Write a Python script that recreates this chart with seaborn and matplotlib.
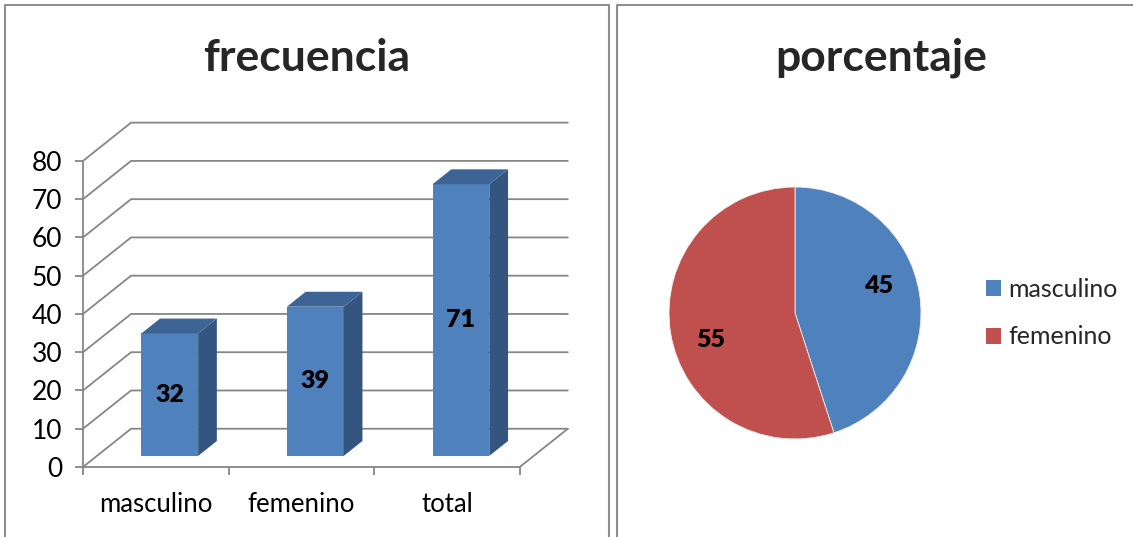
import matplotlib
matplotlib.use("Agg")
import matplotlib.pyplot as plt
import matplotlib.transforms as mtransforms
from matplotlib.patches import Polygon, Patch
from matplotlib.lines import Line2D
import numpy as np
import seaborn as sns

# data
categories = ["masculino", "femenino", "total"]
counts = [32, 39, 71]
pie_labels = ["masculino", "femenino"]
pie_values = [45, 55]
y_ticks = [0, 10, 20, 30, 40, 50, 60, 70, 80]

BLUE = "#4F81BD"
BLUE_SIDE = "#34557F"
BLUE_TOP = "#3C6495"
RED = "#C0504D"
GRID = "#868686"
BORDER = "#8E8E8E"

W, H = 1133, 537

# fake 3d: depth offset of the back wall, in data units
DX, DY = 0.33, 10
BAR_W = 0.39
D0, D1 = 0.29, 0.68


def px_box(x0, y0, x1, y1):
    # image pixel box (top-left origin) -> figure fractions
    return [x0 / W, 1 - y1 / H, (x1 - x0) / W, (y1 - y0) / H]


sns.set_style("white")
plt.rcParams["font.family"] = ["Lato", "DejaVu Sans"]

fig = plt.figure(figsize=(W / 100, H / 100), dpi=100)

# ---- left panel: 3d-looking bar chart ----
ax = fig.add_axes(px_box(83, 115, 578, 467))
sns.barplot(x=categories, y=counts, color=BLUE, saturation=1, width=BAR_W,
            linewidth=0, ax=ax, zorder=3)
shift = mtransforms.Affine2D().translate(D0 * DX, D0 * DY) + ax.transData
for p in ax.patches:
    p.set_transform(shift)

n = len(categories)
for v in y_ticks:
    ax.plot([-0.5, -0.5 + DX, n - 0.5 + DX], [v, v + DY, v + DY],
            color=GRID, lw=1.3, zorder=1, clip_on=False)
ax.plot([n - 0.5, n - 0.5 + DX], [0, DY], color=GRID, lw=1.3, zorder=1, clip_on=False)

for i, v in enumerate(counts):
    xl, xr = i - BAR_W / 2, i + BAR_W / 2
    side = [(xr + D0 * DX, D0 * DY), (xr + D1 * DX, D1 * DY),
            (xr + D1 * DX, v + D1 * DY), (xr + D0 * DX, v + D0 * DY)]
    top = [(xl + D0 * DX, v + D0 * DY), (xr + D0 * DX, v + D0 * DY),
           (xr + D1 * DX, v + D1 * DY), (xl + D1 * DX, v + D1 * DY)]
    ax.add_patch(Polygon(side, closed=True, facecolor=BLUE_SIDE, lw=0, zorder=3))
    ax.add_patch(Polygon(top, closed=True, facecolor=BLUE_TOP, lw=0, zorder=3))
    ax.text(i + D0 * DX, v / 2 + D0 * DY, str(v), ha="center", va="center",
            fontsize=18, fontweight="heavy", color="black", zorder=4)

ax.set_xlim(-0.5, 2.9)
ax.set_ylim(0, 92)
ax.set_xlabel("")
ax.set_ylabel("")
ax.set_yticks(y_ticks)
ax.set_xticks([-0.5, 0.5, 1.5, 2.5], labels=[])
ax.set_xticks([0, 1, 2], labels=categories, minor=True)
ax.tick_params(axis="y", left=True, length=5.8, width=1.3, color=GRID, pad=9,
               labelsize=19, labelcolor="black")
ax.tick_params(axis="x", which="major", bottom=True, length=5.8, width=1.3, color=GRID)
ax.tick_params(axis="x", which="minor", bottom=True, length=0, pad=18,
               labelsize=18.5, labelcolor="black")
for s in ["top", "right"]:
    ax.spines[s].set_visible(False)
ax.spines["left"].set_bounds(0, 80)
ax.spines["bottom"].set_bounds(-0.5, 2.5)
for s in ["left", "bottom"]:
    ax.spines[s].set_color(GRID)
    ax.spines[s].set_linewidth(1.3)
ax.patch.set_alpha(0)

# ---- right panel: pie ----
ax2 = fig.add_axes(px_box(667, 185, 923, 441))
wedges, _, autotexts = ax2.pie(
    pie_values, colors=[BLUE, RED], startangle=90, counterclock=False,
    autopct=lambda p: f"{p:.0f}", pctdistance=0.7,
    textprops=dict(fontsize=18, fontweight="heavy", color="black"),
    wedgeprops=dict(linewidth=0.6, edgecolor="#f0f0f0"))
for w, t in zip(wedges, autotexts):
    ang = np.deg2rad((w.theta1 + w.theta2) / 2 + 9)
    t.set_position((0.7 * np.cos(ang), 0.7 * np.sin(ang)))
ax2.set_xlim(-1.016, 1.016)
ax2.set_ylim(-1.016, 1.016)
ax2.axis("off")

handles = [Patch(facecolor=c, edgecolor="none") for c in [BLUE, RED]]
fig.legend(handles, pie_labels, loc="upper left", bbox_to_anchor=(986 / W, 1 - 278 / H),
           frameon=False, fontsize=18, handlelength=0.6, handleheight=0.6,
           handletextpad=0.3, labelspacing=0.98, borderaxespad=0, borderpad=0)

# titles
fig.text(307 / W, 1 - 71 / H, "frecuencia", ha="center", va="baseline",
         fontsize=32, fontweight="bold")
fig.text(881 / W, 1 - 71 / H, "porcentaje", ha="center", va="baseline",
         fontsize=32, fontweight="bold")

# panel borders
top = 1 - 5 / H
fig.add_artist(Line2D([5 / W, 5 / W, 609 / W, 609 / W], [-0.1, top, top, -0.1],
                      transform=fig.transFigure, color=BORDER, lw=1.5))
fig.add_artist(Line2D([617 / W, 617 / W, 1.1], [-0.1, top, top],
                      transform=fig.transFigure, color=BORDER, lw=1.5))

fig.savefig("out.png", dpi=100)
